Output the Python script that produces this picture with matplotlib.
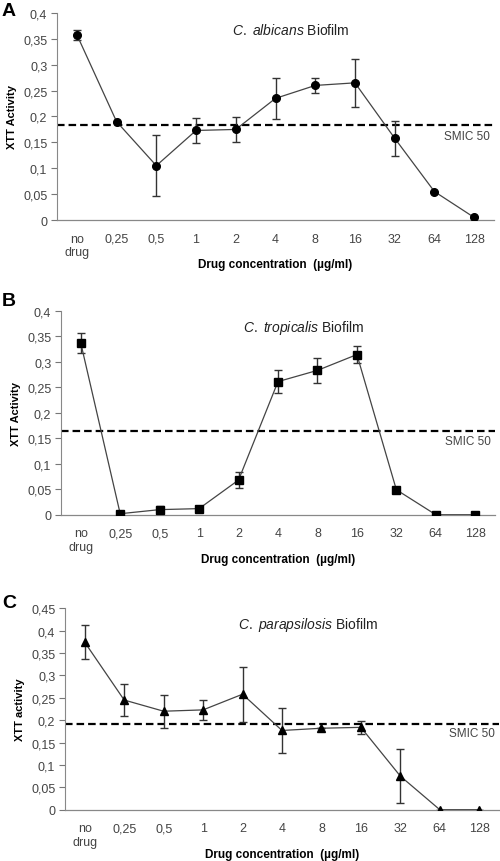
import matplotlib
matplotlib.use("Agg")
import matplotlib.pyplot as plt
import numpy as np

plt.rcParams['font.family'] = ['Liberation Sans', 'DejaVu Sans']
plt.rcParams['mathtext.fontset'] = 'custom'
plt.rcParams['mathtext.it'] = 'Liberation Sans:italic'
plt.rcParams['mathtext.rm'] = 'Liberation Sans'

categories = ["no\ndrug", "0,25", "0,5", "1", "2", "4", "8", "16", "32", "64", "128"]

albicans_vals = [0.358, 0.190, 0.105, 0.173, 0.175, 0.235, 0.260, 0.265, 0.158, 0.055, 0.005]
albicans_err = [0.010, 0.0, 0.059, 0.025, 0.024, 0.040, 0.015, 0.047, 0.034, 0.0, 0.0]
albicans_smic = 0.183

tropicalis_vals = [0.337, 0.002, 0.010, 0.012, 0.068, 0.261, 0.283, 0.314, 0.049, 0.0, 0.0]
tropicalis_err = [0.020, 0.0, 0.008, 0.0, 0.016, 0.023, 0.024, 0.017, 0.0, 0.0, 0.0]
tropicalis_smic = 0.165

parapsilosis_vals = [0.374, 0.245, 0.220, 0.223, 0.258, 0.177, 0.182, 0.184, 0.075, 0.0, 0.0]
parapsilosis_err = [0.038, 0.035, 0.037, 0.022, 0.061, 0.050, 0.0, 0.014, 0.061, 0.0, 0.0]
parapsilosis_smic = 0.192

panels = [
    dict(letter="A", letter_xy=(9, 11), vals=albicans_vals, err=albicans_err, smic=albicans_smic,
         marker="o", ms=5.5, species="albicans", ylabel="XTT Activity", ymax=0.4,
         yticks=np.arange(0, 0.401, 0.05), rect=[0.114, 0.7436, 0.874, 0.2402], title_x=0.535),
    dict(letter="B", letter_xy=(9, 302), vals=tropicalis_vals, err=tropicalis_err, smic=tropicalis_smic,
         marker="s", ms=5.2, species="tropicalis", ylabel="XTT Activity", ymax=0.4,
         yticks=np.arange(0, 0.401, 0.05), rect=[0.122, 0.4017, 0.868, 0.2367], title_x=0.56),
    dict(letter="C", letter_xy=(9, 604), vals=parapsilosis_vals, err=parapsilosis_err, smic=parapsilosis_smic,
         marker="^", ms=6, species="parapsilosis", ylabel="XTT activity", ymax=0.45,
         yticks=np.arange(0, 0.451, 0.05), rect=[0.13, 0.0595, 0.868, 0.2337], title_x=0.56),
]

def fmt(v):
    s = ("%.2f" % v).rstrip('0').rstrip('.')
    return s.replace('.', ',') if s else "0"

W, H = 500, 862
fig = plt.figure(figsize=(W / 100, H / 100), dpi=100)
x = np.arange(len(categories))
for p in panels:
    ax = fig.add_axes(p["rect"])
    ax.errorbar(x, p["vals"], yerr=p["err"], fmt='none', ecolor='#333333', elinewidth=1.0,
                capsize=3, capthick=1.0, zorder=2)
    ax.plot(x, p["vals"], color='#444444', lw=0.9, marker=p["marker"], ms=p["ms"],
            mfc='black', mec='black', zorder=3)
    ax.axhline(p["smic"], color='black', lw=1.6, ls=(0, (3.4, 1.8)), zorder=1)
    ax.set_xlim(-0.5, len(categories) - 0.5)
    ax.set_ylim(0, p["ymax"])
    ax.set_xticks(x)
    ax.set_xticklabels(categories, fontsize=9, color='#444444', linespacing=1.15)
    ax.set_yticks(p["yticks"])
    ax.set_yticklabels([fmt(v) for v in p["yticks"]], fontsize=9, color='#444444')
    ax.tick_params(axis='x', length=0, pad=9)
    ax.tick_params(axis='y', length=4, width=0.8, color='#777777', pad=3)
    for s in ['top', 'right']:
        ax.spines[s].set_visible(False)
    ax.spines['left'].set_color('#888888')
    ax.spines['bottom'].set_color('#888888')
    ax.spines['left'].set_linewidth(0.8)
    ax.spines['bottom'].set_linewidth(0.9)
    ax.set_xlabel("Drug concentration  (µg/ml)", fontsize=8.5, fontweight='bold', labelpad=0)
    ax.set_ylabel(p["ylabel"], fontsize=8, fontweight='bold', labelpad=4)
    ax.text(p["title_x"], 0.92, r"$\it{C.\ " + p["species"] + r"}$ Biofilm", transform=ax.transAxes,
            ha='center', va='center', fontsize=10, color='#222222')
    ax.text(0.99, p["smic"] - 0.02, "SMIC 50", transform=ax.get_yaxis_transform(),
            ha='right', va='center', fontsize=8.5, color='#444444')
    lx, ly = p["letter_xy"]
    fig.text(lx / W, 1 - ly / H, p["letter"], fontsize=14, fontweight='bold',
             ha='center', va='center')

fig.savefig("out.png", dpi=100, facecolor='white')
